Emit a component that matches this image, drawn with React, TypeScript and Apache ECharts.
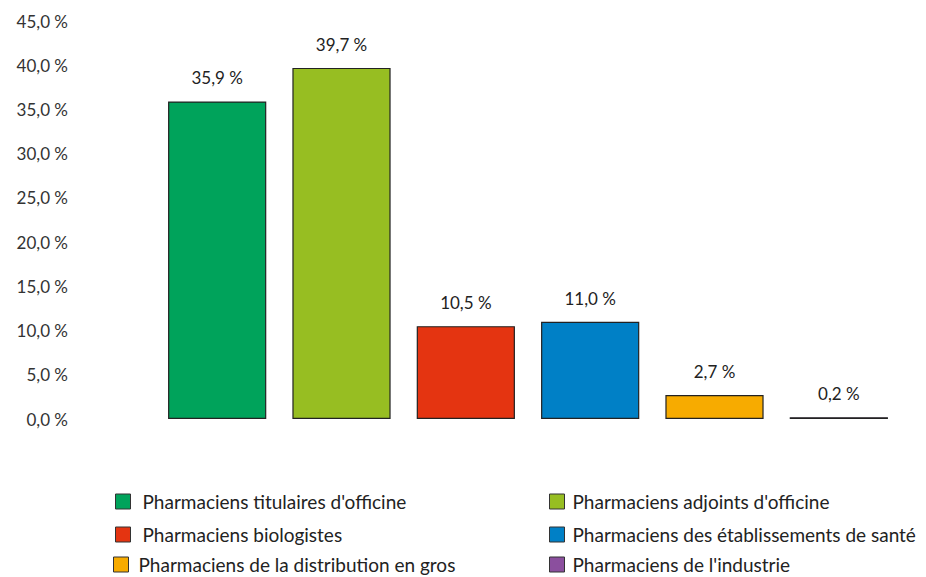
import React, { useEffect, useRef } from "react";
import * as echarts from "echarts";

const categories = [
  "Pharmaciens titulaires d'officine",
  "Pharmaciens adjoints d'officine",
  "Pharmaciens biologistes",
  "Pharmaciens des établissements de santé",
  "Pharmaciens de la distribution en gros",
  "Pharmaciens de l'industrie",
];
const values = [35.9, 39.7, 10.5, 11.0, 2.7, 0.2];
const colors = ["#00A35B", "#97BE22", "#E43411", "#0080C6", "#F7AB00", "#8B4F9E"];

const legendPos = [
  { left: 115, top: 492, pad: 12 },
  { left: 549, top: 492, pad: 8 },
  { left: 115, top: 525, pad: 12 },
  { left: 549, top: 525, pad: 8 },
  { left: 113, top: 555, pad: 10 },
  { left: 549, top: 555, pad: 8 },
];

const fmt = (v: number) => v.toFixed(1).replace(".", ",") + " %";

export default function App() {
  const ref = useRef<HTMLDivElement>(null);
  useEffect(() => {
    if (!ref.current) return;
    const chart = echarts.init(ref.current, undefined, { renderer: "svg" });
    const font = "Lato, 'Open Sans', sans-serif";
    chart.setOption({
      animation: false,
      textStyle: { fontFamily: font },
      grid: { left: 155, right: 25, top: 21, bottom: 158 },
      xAxis: {
        type: "category",
        data: categories,
        axisLine: { show: false },
        axisTick: { show: false },
        axisLabel: { show: false },
      },
      yAxis: {
        type: "value",
        min: 0,
        max: 45,
        interval: 5,
        splitLine: { show: false },
        axisLine: { show: false },
        axisTick: { show: false },
        axisLabel: {
          margin: 87,
          fontSize: 17,
          color: "#333",
          fontFamily: font,
          formatter: (v: number) => fmt(v),
        },
      },
      legend: categories.map((c, i) => ({
        data: [{ name: c, icon: "rect" }],
        left: legendPos[i].left,
        top: legendPos[i].top,
        itemWidth: 15,
        itemHeight: 15,
        itemGap: 0,
        padding: 0,
        itemStyle: { borderColor: "#333", borderWidth: 1 },
        textStyle: {
          fontSize: 19,
          lineHeight: 15,
          color: "#222",
          fontFamily: font,
          padding: [0, 0, 0, legendPos[i].pad - 5],
        },
      })),
      series: categories.map((c, i) => ({
        name: c,
        type: "bar",
        stack: "all",
        barWidth: "79%",
        data: categories.map((_, j) => (j === i ? values[i] : null)),
        itemStyle: { color: colors[i], borderColor: "#222", borderWidth: 1.2 },
        label: {
          show: true,
          position: "top",
          distance: 15,
          fontSize: 17,
          color: "#222",
          fontFamily: font,
          formatter: (p: any) => fmt(p.value),
        },
      })),
    });
    return () => chart.dispose();
  }, []);
  return (
    <div
      ref={ref}
      style={{ position: "absolute", left: 0, top: 0, width: 926, height: 577 }}
    />
  );
}
